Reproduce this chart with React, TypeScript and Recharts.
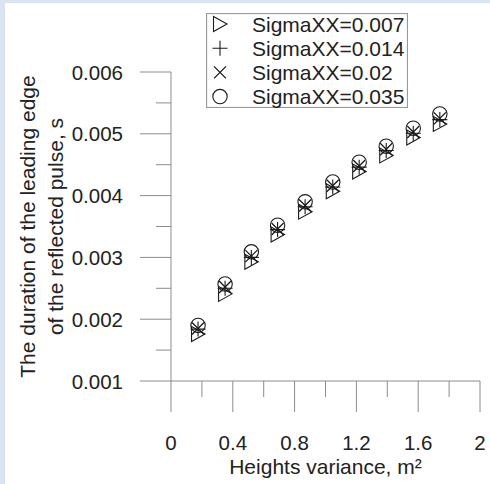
import React from "react";
import { ScatterChart, Scatter, XAxis, YAxis, Legend, Label } from "recharts";

// Heights variance, m^2
const heights = [0.175, 0.35, 0.52, 0.69, 0.868, 1.047, 1.218, 1.393, 1.568, 1.74];

// Duration of the leading edge, s
const sigma007 = [0.00176, 0.00241, 0.00293, 0.00337, 0.00374, 0.00407, 0.00439, 0.00465, 0.00494, 0.00516];
const sigma014 = [0.00184, 0.0025, 0.003, 0.00345, 0.00382, 0.00414, 0.00446, 0.00473, 0.00501, 0.00523];
const sigma020 = [0.00185, 0.00252, 0.00302, 0.00346, 0.00384, 0.00416, 0.00448, 0.00475, 0.00503, 0.00525];
const sigma035 = [0.0019, 0.00257, 0.00309, 0.00352, 0.0039, 0.00422, 0.00454, 0.0048, 0.00509, 0.00532];

const seriesNames = ["SigmaXX=0.007", "SigmaXX=0.014", "SigmaXX=0.02", "SigmaXX=0.035"];

const xTicks = [0, 0.2, 0.4, 0.6, 0.8, 1, 1.2, 1.4, 1.6, 1.8, 2];
const yTicks = [0.001, 0.0015, 0.002, 0.0025, 0.003, 0.0035, 0.004, 0.0045, 0.005, 0.0055, 0.006];

const font = '"Liberation Sans", Arial, sans-serif';
const axisColor = "#8c8c8c";
const textColor = "#222";
const markColor = "#1a1a1a";

const toPoints = (ys: number[]) => heights.map((h, i) => ({ x: h, y: ys[i] }));

// marker shapes
const drawTriangle = (cx: number, cy: number) => (
  <path
    d={`M${cx - 6.5},${cy - 7.5} L${cx + 7},${cy} L${cx - 6.5},${cy + 7.5} Z`}
    fill="none"
    stroke={markColor}
    strokeWidth={1.1}
  />
);
const drawPlus = (cx: number, cy: number) => (
  <path
    d={`M${cx - 7.5},${cy} H${cx + 7.5} M${cx},${cy - 7.5} V${cy + 7.5}`}
    stroke={markColor}
    strokeWidth={1.1}
  />
);
const drawCross = (cx: number, cy: number) => (
  <path
    d={`M${cx - 6},${cy - 6} L${cx + 6},${cy + 6} M${cx - 6},${cy + 6} L${cx + 6},${cy - 6}`}
    stroke={markColor}
    strokeWidth={1.3}
  />
);
const drawCircle = (cx: number, cy: number) => (
  <circle cx={cx} cy={cy} r={7.2} fill="none" stroke={markColor} strokeWidth={1.1} />
);

const markers = [drawTriangle, drawPlus, drawCross, drawCircle];

const XTick = ({ x, y, payload }: any) => {
  const v = payload.value;
  const major = Math.round(v * 10) % 4 === 0;
  return (
    <g>
      <line x1={x} x2={x} y1={y} y2={y + (major ? 31 : 16)} stroke={axisColor} />
      {major && (
        <text
          x={x}
          y={y + 61}
          textAnchor="middle"
          dominantBaseline="central"
          fontSize={20.5}
          fontFamily={font}
          fill={textColor}
        >
          {String(v)}
        </text>
      )}
    </g>
  );
};

const YTick = ({ x, y, payload }: any) => {
  const v = payload.value;
  const major = Math.abs(v * 1000 - Math.round(v * 1000)) < 1e-6;
  return (
    <g>
      <line x1={x - (major ? 31 : 15)} x2={x} y1={y} y2={y} stroke={axisColor} />
      {major && (
        <text
          x={x - 48}
          y={y}
          textAnchor="end"
          dominantBaseline="central"
          fontSize={20.5}
          fontFamily={font}
          fill={textColor}
        >
          {v.toFixed(3)}
        </text>
      )}
    </g>
  );
};

const LegendBox = () => (
  <svg width={202} height={95} style={{ display: "block" }}>
    <rect x={0.5} y={0.5} width={201} height={94} fill="#fff" stroke="#9a9a9a" strokeWidth={1.2} />
    {seriesNames.map((name, i) => {
      const cy = 11 + i * 24.2;
      return (
        <g key={name}>
          {markers[i](14, cy)}
          <text
            x={46}
            y={cy}
            dominantBaseline="central"
            fontSize={21}
            fontFamily={font}
            fill={textColor}
          >
            {name}
          </text>
        </g>
      );
    })}
  </svg>
);

export default function App() {
  const series = [sigma007, sigma014, sigma020, sigma035];
  return (
    <div
      style={{
        position: "absolute",
        left: 0,
        top: 0,
        width: 490,
        height: 484,
        boxSizing: "border-box",
        background: "#fff",
        borderLeft: "5px solid #dae3f3",
        borderTop: "3px solid #dae3f3",
        overflow: "hidden",
      }}
    >
      <ScatterChart width={485} height={481} margin={{ top: 69, right: 10, bottom: 43, left: 0 }}>
        <XAxis
          type="number"
          dataKey="x"
          domain={[0, 2]}
          ticks={xTicks}
          interval={0}
          height={60}
          tickSize={0}
          tickMargin={0}
          tick={<XTick />}
          tickLine={false}
          axisLine={{ stroke: axisColor }}
          allowDataOverflow
        >
          <Label
            content={({ viewBox }: any) => (
              <text
                x={viewBox.x + viewBox.width / 2}
                y={viewBox.y + 85}
                textAnchor="middle"
                dominantBaseline="central"
                fontSize={21}
                fontFamily={font}
                fill={textColor}
              >
                Heights variance, m²
              </text>
            )}
          />
        </XAxis>
        <YAxis
          type="number"
          dataKey="y"
          domain={[0.001, 0.006]}
          ticks={yTicks}
          interval={0}
          width={166}
          tickSize={0}
          tickMargin={0}
          tick={<YTick />}
          tickLine={false}
          axisLine={{ stroke: axisColor }}
          allowDataOverflow
        >
          <Label
            content={({ viewBox }: any) => {
              const cy = viewBox.y + viewBox.height / 2;
              return (
                <g fontSize={21} fontFamily={font} fill={textColor}>
                  <text x={22} y={cy} textAnchor="middle" dominantBaseline="central" transform={`rotate(-90 22 ${cy})`}>
                    The duration of the leading edge
                  </text>
                  <text x={50} y={cy} textAnchor="middle" dominantBaseline="central" transform={`rotate(-90 50 ${cy})`}>
                    of the reflected pulse, s
                  </text>
                </g>
              );
            }}
          />
        </YAxis>
        <Legend
          layout="vertical"
          align="center"
          verticalAlign="middle"
          content={() => <LegendBox />}
          wrapperStyle={{ left: 201, top: 10, width: 202, height: 95 }}
        />
        {series.map((ys, i) => (
          <Scatter
            key={seriesNames[i]}
            name={seriesNames[i]}
            data={toPoints(ys)}
            isAnimationActive={false}
            shape={(p: any) => markers[i](p.cx, p.cy)}
          />
        ))}
      </ScatterChart>
    </div>
  );
}
